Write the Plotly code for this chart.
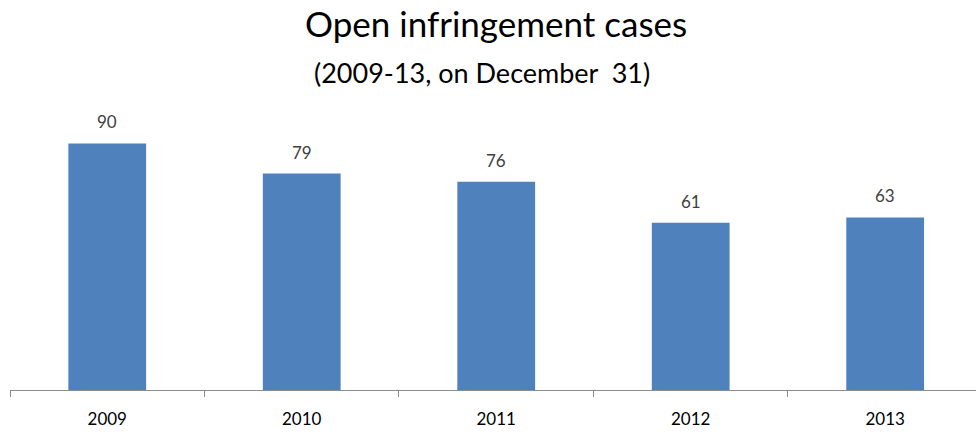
import plotly.graph_objects as go

years = ["2009", "2010", "2011", "2012", "2013"]
cases = [90, 79, 76, 61, 63]

FONT = "Lato, Carlito, Calibri, sans-serif"
BAR = "#4F81BD"

T, B, L, R = 116, 42, 10, 0
PH = 432 - T - B
PW = 976 - L - R

fig = go.Figure(go.Bar(
    x=years, y=cases, marker=dict(color=BAR, line=dict(width=0)),
    hoverinfo="x+y",
))

for i, v in enumerate(cases):
    fig.add_annotation(x=i, y=v, text=str(v), showarrow=False,
                       yanchor="bottom", yshift=9,
                       font=dict(family=FONT, size=17, color="#404040"))

fig.add_annotation(xref="paper", yref="paper", x=(496 - L) / PW,
                   y=(PH + T - 23) / PH,
                   text="Open infringement cases", showarrow=False,
                   xanchor="center", yanchor="middle",
                   font=dict(family=FONT, size=35, color="#000000"))
fig.add_annotation(xref="paper", yref="paper", x=(481.5 - L) / PW,
                   y=(PH + T - 72) / PH,
                   text="(2009-13, on December&nbsp;&nbsp;31)", showarrow=False,
                   xanchor="center", yanchor="middle",
                   font=dict(family=FONT, size=27, color="#000000"))

fig.update_layout(
    width=976, height=432,
    margin=dict(l=L, r=R, t=T, b=B, autoexpand=False),
    paper_bgcolor="white", plot_bgcolor="white",
    bargap=0.6, showlegend=False,
    xaxis=dict(type="category", range=[-0.5, 4.467], showgrid=False,
               showline=True, linecolor="#8C8C8C", linewidth=1,
               ticks="outside", tickson="boundaries", ticklen=6,
               tickcolor="#8C8C8C", ticklabelstandoff=14,
               tickfont=dict(family=FONT, size=17, color="#000000")),
    yaxis=dict(range=[0, 100], visible=False, showgrid=False, zeroline=False),
)

fig.write_html("out.html",
               config={"displayModeBar": False},
               post_script="document.body.style.margin='0';")
